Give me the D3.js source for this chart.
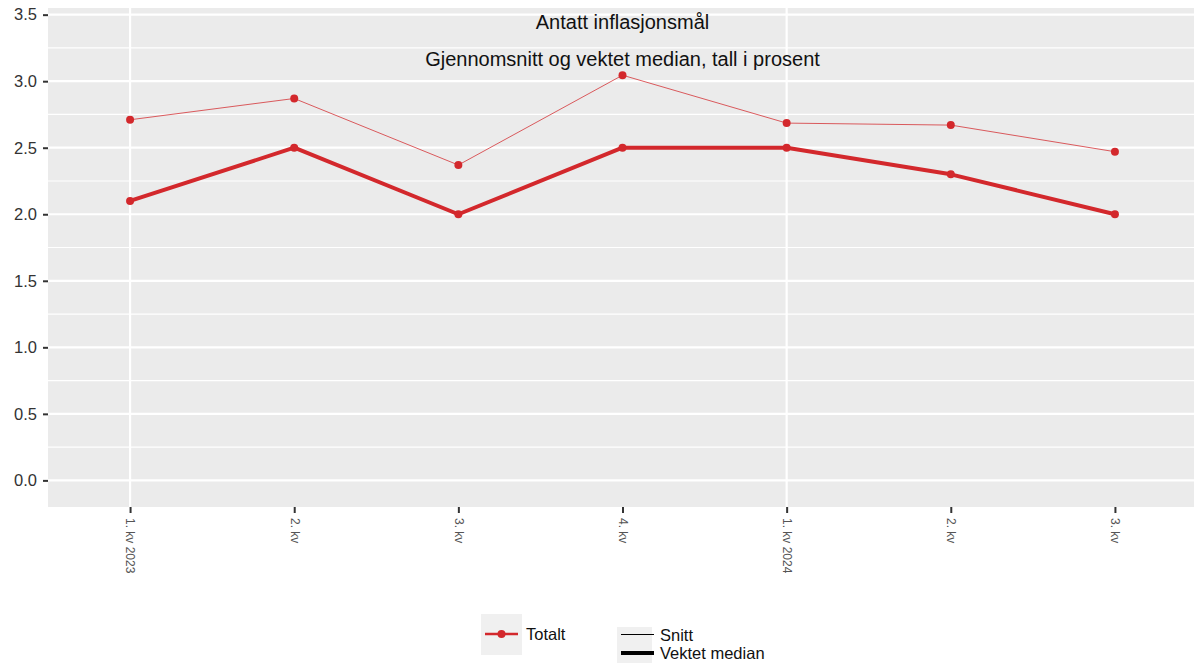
<html>
<head>
<meta charset="utf-8">
<style>
  body { margin: 0; background: #fff; }
  text { font-family: "Liberation Sans", Arial, sans-serif; }
</style>
</head>
<body>
<script src="https://cdn.jsdelivr.net/npm/d3@7"></script>
<script>
var width = 1194, height = 663;

var kvartaler = ["1. kv 2023", "2. kv", "3. kv", "4. kv", "1. kv 2024", "2. kv ", "3. kv "];
var snitt = [2.71, 2.87, 2.37, 3.045, 2.685, 2.67, 2.47];
var median = [2.1, 2.5, 2.0, 2.5, 2.5, 2.3, 2.0];
var yTicks = [0, 0.5, 1, 1.5, 2, 2.5, 3, 3.5];
var aarsGrid = ["1. kv 2023", "1. kv 2024"];

var rod = "#d3282c";

var svg = d3.select("body").append("svg")
    .attr("width", width)
    .attr("height", height);

var pLeft = 48, pRight = 1197, pTop = 8, pBottom = 507;

var x = d3.scalePoint()
    .domain(kvartaler)
    .range([pLeft, pRight])
    .padding(0.5);

var y = d3.scaleLinear()
    .domain([-0.2, 3.55])
    .range([pBottom, pTop]);

// panel
svg.append("rect")
    .attr("x", pLeft).attr("y", pTop)
    .attr("width", pRight - pLeft).attr("height", pBottom - pTop)
    .attr("fill", "#ebebeb");

// minor grid
svg.append("g").selectAll("line")
    .data(d3.range(0.25, 3.5, 0.5))
    .enter().append("line")
    .attr("x1", pLeft).attr("x2", pRight)
    .attr("y1", function(d){ return y(d); })
    .attr("y2", function(d){ return y(d); })
    .attr("stroke", "#fff").attr("stroke-width", 1.2);

// major grid
svg.append("g").selectAll("line")
    .data(yTicks)
    .enter().append("line")
    .attr("x1", pLeft).attr("x2", pRight)
    .attr("y1", function(d){ return y(d); })
    .attr("y2", function(d){ return y(d); })
    .attr("stroke", "#fff").attr("stroke-width", 2.2);

svg.append("g").selectAll("line")
    .data(aarsGrid)
    .enter().append("line")
    .attr("x1", function(d){ return x(d); })
    .attr("x2", function(d){ return x(d); })
    .attr("y1", pTop).attr("y2", pBottom)
    .attr("stroke", "#fff").attr("stroke-width", 2.2);

// y axis
var yAxis = svg.append("g")
    .attr("transform", "translate(" + pLeft + ",0)")
    .call(d3.axisLeft(y).tickValues(yTicks).tickFormat(d3.format(".1f")).tickSize(5).tickPadding(6));
yAxis.select(".domain").remove();
yAxis.selectAll(".tick line").attr("stroke", "#333").attr("stroke-width", 2);
yAxis.selectAll("text").attr("font-size", 16.5).attr("fill", "#333");

// x axis
var xAxis = svg.append("g")
    .attr("transform", "translate(0," + pBottom + ")")
    .call(d3.axisBottom(x).tickSize(6).tickFormat(function(d){ return d.trim(); }));
xAxis.select(".domain").remove();
xAxis.selectAll(".tick line").attr("stroke", "#333").attr("stroke-width", 2);
xAxis.selectAll("text")
    .attr("font-size", 12)
    .attr("fill", "#555")
    .attr("transform", "rotate(90)")
    .attr("text-anchor", "start")
    .attr("dy", "0.35em")
    .attr("x", 11)
    .attr("y", 0);

// titles
svg.append("text")
    .attr("x", (pLeft + pRight) / 2).attr("y", 29)
    .attr("text-anchor", "middle")
    .attr("font-size", 20).attr("fill", "#111")
    .text("Antatt inflasjonsmål");
svg.append("text")
    .attr("x", (pLeft + pRight) / 2).attr("y", 66)
    .attr("text-anchor", "middle")
    .attr("font-size", 20).attr("fill", "#111")
    .text("Gjennomsnitt og vektet median, tall i prosent");

var line = d3.line()
    .x(function(d, i){ return x(kvartaler[i]); })
    .y(function(d){ return y(d); });

svg.append("path")
    .datum(snitt)
    .attr("d", line)
    .attr("fill", "none")
    .attr("stroke", rod).attr("stroke-opacity", 0.75)
    .attr("stroke-width", 1);

svg.append("path")
    .datum(median)
    .attr("d", line)
    .attr("fill", "none")
    .attr("stroke", rod)
    .attr("stroke-width", 4)
    .attr("stroke-linejoin", "round");

[snitt, median].forEach(function(serie){
    svg.append("g").selectAll("circle")
        .data(serie)
        .enter().append("circle")
        .attr("cx", function(d, i){ return x(kvartaler[i]); })
        .attr("cy", function(d){ return y(d); })
        .attr("r", 4)
        .attr("fill", rod);
});

// legend
var leg = svg.append("g");
leg.append("rect").attr("x", 481).attr("y", 614).attr("width", 41).attr("height", 41).attr("fill", "#f0f0f0");
leg.append("line").attr("x1", 485).attr("x2", 518).attr("y1", 634).attr("y2", 634)
    .attr("stroke", rod).attr("stroke-width", 2.5);
leg.append("circle").attr("cx", 501.5).attr("cy", 634).attr("r", 4).attr("fill", rod);
leg.append("text").attr("x", 526).attr("y", 640).attr("font-size", 16.5).attr("fill", "#111").text("Totalt");

leg.append("rect").attr("x", 617).attr("y", 627).attr("width", 35).attr("height", 36).attr("fill", "#f0f0f0");
leg.append("line").attr("x1", 621).attr("x2", 654).attr("y1", 634.5).attr("y2", 634.5)
    .attr("stroke", "#000").attr("stroke-width", 1);
leg.append("line").attr("x1", 621).attr("x2", 654).attr("y1", 653).attr("y2", 653)
    .attr("stroke", "#000").attr("stroke-width", 4);
leg.append("text").attr("x", 660).attr("y", 641).attr("font-size", 16.5).attr("fill", "#111").text("Snitt");
leg.append("text").attr("x", 660).attr("y", 659).attr("font-size", 16.5).attr("fill", "#111").text("Vektet median");
</script>
</body>
</html>
